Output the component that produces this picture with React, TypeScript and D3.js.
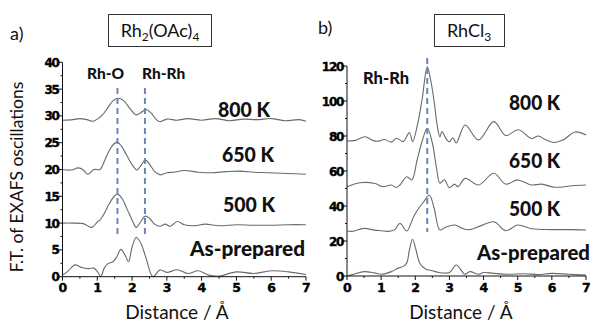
import React from "react";
import * as d3 from "d3";

// ---------- Data ----------
// Panel a) Rh2(OAc)4
const a800X = [0, 0.3, 0.5, 0.7, 0.88, 1.0, 1.15, 1.3, 1.45, 1.6, 1.75, 1.9, 2.05, 2.12, 2.25, 2.4, 2.55, 2.7, 2.8, 3.0, 3.3, 3.6, 4.0, 4.4, 4.8, 5.2, 5.6, 6.0, 6.4, 6.8, 7.0];
const a800Y = [29.2, 29.3, 29.5, 29.3, 29.0, 29.4, 30.2, 31.5, 32.8, 33.3, 32.9, 31.7, 30.5, 30.2, 30.6, 31.2, 30.5, 29.3, 28.9, 29.4, 29.2, 29.5, 29.2, 29.5, 29.1, 29.4, 29.3, 29.5, 29.1, 29.3, 29.0];

const a650X = [0, 0.25, 0.46, 0.6, 0.73, 0.9, 1.08, 1.2, 1.35, 1.5, 1.58, 1.7, 1.85, 2.0, 2.14, 2.26, 2.38, 2.5, 2.65, 2.81, 3.0, 3.2, 3.5, 3.9, 4.3, 4.7, 5.1, 5.5, 5.9, 6.3, 6.7, 7.0];
const a650Y = [20.0, 19.9, 20.3, 19.9, 19.1, 20.0, 20.0, 21.5, 23.6, 24.9, 25.1, 24.3, 22.6, 20.9, 19.9, 20.8, 21.8, 21.0, 19.6, 19.0, 19.4, 19.5, 19.8, 19.5, 19.4, 19.6, 19.7, 19.5, 19.4, 19.3, 19.2, 19.1];

const a500X = [0, 0.3, 0.6, 0.84, 1.0, 1.08, 1.2, 1.35, 1.5, 1.58, 1.7, 1.85, 2.0, 2.12, 2.25, 2.38, 2.5, 2.65, 2.8, 2.95, 3.1, 3.3, 3.5, 3.8, 4.1, 4.5, 5.0, 5.5, 6.0, 6.5, 7.0];
const a500Y = [10.0, 10.0, 9.9, 9.2, 10.2, 10.6, 11.8, 13.7, 15.1, 15.4, 14.7, 12.7, 10.6, 9.2, 10.3, 11.3, 10.9, 9.8, 9.4, 9.8, 9.4, 10.3, 9.7, 9.5, 9.8, 9.5, 9.7, 9.6, 9.6, 9.7, 9.7];

const aPrepX = [0, 0.15, 0.36, 0.55, 0.75, 0.9, 1.0, 1.1, 1.2, 1.3, 1.45, 1.55, 1.68, 1.8, 1.9, 2.0, 2.12, 2.25, 2.4, 2.6, 2.8, 3.0, 3.3, 3.6, 3.9, 4.2, 4.5, 5.0, 5.5, 6.0, 6.5, 7.0];
const aPrepY = [0.3, 1.0, 2.2, 1.7, 1.5, 1.6, 1.0, 0.1, 1.6, 2.4, 2.8, 3.6, 5.1, 4.0, 2.8, 5.5, 7.3, 6.3, 3.5, 0.0, 1.25, 0.8, 1.3, 0.6, 1.1, 0.3, 0.1, 0.9, 0.6, 1.1, 0.9, 0.4];

// Panel b) RhCl3
const b800X = [0, 0.25, 0.53, 0.75, 0.9, 1.1, 1.3, 1.45, 1.64, 1.83, 1.92, 2.06, 2.2, 2.35, 2.45, 2.55, 2.65, 2.72, 2.78, 2.9, 3.0, 3.1, 3.2, 3.46, 3.85, 4.3, 4.65, 5.02, 5.4, 5.6, 5.8, 6.05, 6.35, 6.68, 7.0];
const b800Y = [77.1, 77.5, 79.6, 77.5, 77.0, 78.0, 76.5, 78.7, 76.8, 81.9, 76.8, 86, 101, 119.5, 112, 100, 85, 79.5, 82.5, 78.5, 76.7, 79.0, 76.0, 86.3, 77.7, 88.2, 80.3, 83.6, 78.6, 80.0, 78.0, 76.3, 78.0, 82.3, 80.6];

const b650X = [0, 0.38, 0.82, 1.06, 1.3, 1.45, 1.55, 1.75, 1.9, 2.05, 2.2, 2.35, 2.5, 2.62, 2.72, 2.85, 3.0, 3.15, 3.25, 3.46, 3.85, 4.3, 4.65, 5.0, 5.4, 5.7, 6.1, 6.6, 7.0];
const b650Y = [51.0, 53.3, 52.9, 51.0, 52.0, 50.6, 52.0, 56.7, 54.9, 66, 77, 84.4, 76, 62, 53.0, 55.0, 50.5, 52.5, 51, 55.8, 52.0, 58.7, 52.5, 54.9, 52.0, 52.5, 50.7, 51.6, 52.0];

const b500X = [0, 0.15, 0.5, 0.8, 1.0, 1.2, 1.4, 1.55, 1.75, 1.95, 2.1, 2.25, 2.41, 2.55, 2.72, 2.9, 3.16, 3.4, 3.6, 3.9, 4.3, 4.65, 5.0, 5.4, 6.0, 6.5, 7.0];
const b500Y = [25.7, 25.5, 27.2, 26.2, 25.9, 25.5, 26.5, 30.1, 25.7, 33.9, 38.7, 42.5, 46.3, 39, 26.3, 28.0, 29.1, 27.0, 26.5, 28.5, 31.0, 25.9, 29.1, 27.0, 26.5, 26.5, 26.3];

const bPrepX = [0, 0.2, 0.5, 0.8, 1.0, 1.3, 1.5, 1.65, 1.75, 1.83, 1.92, 2.02, 2.14, 2.3, 2.5, 2.7, 3.0, 3.2, 3.45, 3.6, 3.85, 4.0, 4.3, 4.7, 5.2, 5.6, 6.0, 6.5, 7.0];
const bPrepY = [0.0, 1.0, 2.5, 1.8, 1.0, 2.5, 4.5, 5.5, 7.5, 15, 21.0, 15, 7, 4, 3.0, 2.0, 2.0, 6.3, 1.0, 2.5, 1.0, 2.0, 1.5, 1.0, 1.3, 0.8, 1.5, 1.0, 0.5];

const xTicks = [0, 1, 2, 3, 4, 5, 6, 7];
const aYTicks = [0, 5, 10, 15, 20, 25, 30, 35, 40];
const bYTicks = [0, 20, 40, 60, 80, 100, 120];

const aLabels = ["800 K", "650 K", "500 K", "As-prepared"];
const bLabels = ["800 K", "650 K", "500 K", "As-prepared"];
const aBonds = ["Rh-O", "Rh-Rh"];
const aBondPos = [1.58, 2.37];
const bBonds = ["Rh-Rh"];
const bBondPos = [2.35];

const FONT = "Lato, 'Open Sans', sans-serif";
const TICKFONT = "'DejaVu Sans', sans-serif";
const LINE = "#6a6a6a";
const DASH = "#6b86b3";

type PanelProps = {
  x0: number; x1: number; y0: number; y1: number; yMax: number;
  yTicks: number[]; yMinorStep: number;
  series: [number[], number[]][];
  bondPos: number[];
  dashTop: number; dashBottom: number;
};

function Panel(p: PanelProps) {
  const x = d3.scaleLinear().domain([0, 7]).range([p.x0, p.x1]);
  const y = d3.scaleLinear().domain([0, p.yMax]).range([p.y0, p.y1]);
  const line = d3
    .line<[number, number]>()
    .x((d) => x(d[0]))
    .y((d) => y(d[1]))
    .curve(d3.curveCatmullRom.alpha(0.5));
  const xMinor = d3.range(0.5, 7, 1);
  const yMinor = d3.range(p.yMinorStep, p.yMax, p.yMinorStep * 2);
  return (
    <g>
      {p.series.map(([xs, ys], i) => (
        <path key={i} d={line(xs.map((v, j) => [v, ys[j]]) as [number, number][]) || ""} fill="none" stroke={LINE} strokeWidth={1.1} />
      ))}
      {p.bondPos.map((b, i) => (
        <line key={i} x1={x(b)} x2={x(b)} y1={p.dashTop} y2={p.dashBottom} stroke={DASH} strokeWidth={2} strokeDasharray="6,4" />
      ))}
      <line x1={p.x0} x2={p.x1} y1={p.y0} y2={p.y0} stroke="#111" strokeWidth={1} />
      <line x1={p.x0} x2={p.x0} y1={p.y0} y2={p.y1} stroke="#111" strokeWidth={1} />
      {xTicks.map((t) => (
        <g key={t}>
          <line x1={x(t)} x2={x(t)} y1={p.y0} y2={p.y0 + 4} stroke="#111" />
          <text x={x(t)} y={p.y0 + 15.5} textAnchor="middle" fontFamily={TICKFONT} fontWeight="bold" fontSize={12.5} letterSpacing={-0.6} stroke="#000" strokeWidth={0.4}>{t}</text>
        </g>
      ))}
      {xMinor.map((t) => (
        <line key={t} x1={x(t)} x2={x(t)} y1={p.y0} y2={p.y0 + 2} stroke="#111" />
      ))}
      {p.yTicks.map((t) => (
        <g key={t}>
          <line x1={p.x0 - 4} x2={p.x0} y1={y(t)} y2={y(t)} stroke="#111" />
          <text x={p.x0 - 4} y={y(t) + 4.5} textAnchor="end" fontFamily={TICKFONT} fontWeight="bold" fontSize={12} letterSpacing={-1.3} stroke="#000" strokeWidth={0.4}>{t}</text>
        </g>
      ))}
      {yMinor.map((t) => (
        <line key={t} x1={p.x0 - 2} x2={p.x0} y1={y(t)} y2={y(t)} stroke="#111" />
      ))}
    </g>
  );
}

export default function App() {
  const boldTxt = { fontFamily: FONT, fontWeight: 900, fill: "#111" } as const;
  const regTxt = { fontFamily: FONT, fill: "#111" } as const;
  const aTempPos: [number, number, number][] = [[218, 117, 52], [222, 162, 52], [223, 212, 52], [190, 256, 115]];
  const bTempPos: [number, number, number][] = [[509, 110, 51], [509, 168, 51], [509, 216, 51], [477, 260, 113]];
  return (
    <svg width={593} height={322} style={{ position: "absolute", left: 0, top: 0, background: "#fff" }}>
      <rect width={593} height={322} fill="#fff" />
      <Panel x0={62.5} x1={306} y0={276.7} y1={62.3} yMax={40} yTicks={aYTicks} yMinorStep={2.5}
        series={[[a800X, a800Y], [a650X, a650Y], [a500X, a500Y], [aPrepX, aPrepY]]}
        bondPos={aBondPos} dashTop={88} dashBottom={234} />
      <Panel x0={347} x1={586} y0={276} y1={66} yMax={120} yTicks={bYTicks} yMinorStep={10}
        series={[[b800X, b800Y], [b650X, b650Y], [b500X, b500Y], [bPrepX, bPrepY]]}
        bondPos={bBondPos} dashTop={58} dashBottom={232} />

      <text x={10} y={40} fontSize={18} {...regTxt}>a)</text>
      <rect x={108.5} y={14.5} width={103} height={32} fill="none" stroke="#333" strokeWidth={1} />
      <text x={160} y={37} textAnchor="middle" fontSize={18} {...regTxt}>
        Rh<tspan fontSize={12} dy={4}>2</tspan><tspan dy={-4}>(OAc)</tspan><tspan fontSize={12} dy={4}>4</tspan>
      </text>
      <text x={318} y={34} fontSize={18} {...regTxt}>b)</text>
      <rect x={434.5} y={14.5} width={70} height={32} fill="none" stroke="#333" strokeWidth={1} />
      <text x={469} y={37} textAnchor="middle" fontSize={18} {...regTxt}>
        RhCl<tspan fontSize={12} dy={4}>3</tspan>
      </text>

      <text x={87} y={79} fontSize={15.5} {...boldTxt}>{aBonds[0]}</text>
      <text x={142} y={79} fontSize={15.5} {...boldTxt}>{aBonds[1]}</text>
      <text x={363} y={84} fontSize={16.5} {...boldTxt}>{bBonds[0]}</text>

      {aLabels.map((l, i) => (
        <text key={"a" + i} x={aTempPos[i][0]} y={aTempPos[i][1]} fontSize={20} textLength={aTempPos[i][2]} lengthAdjust="spacingAndGlyphs" {...boldTxt}>{l}</text>
      ))}
      {bLabels.map((l, i) => (
        <text key={"b" + i} x={bTempPos[i][0]} y={bTempPos[i][1]} fontSize={20} textLength={bTempPos[i][2]} lengthAdjust="spacingAndGlyphs" {...boldTxt}>{l}</text>
      ))}

      <text x={177} y={319} textAnchor="middle" fontSize={19} {...regTxt}>Distance / Å</text>
      <text x={461} y={319} textAnchor="middle" fontSize={19} {...regTxt}>Distance / Å</text>
      <text transform="translate(23,177) rotate(-90)" textAnchor="middle" fontSize={17.5} {...regTxt}>F.T. of EXAFS oscillations</text>
    </svg>
  );
}
